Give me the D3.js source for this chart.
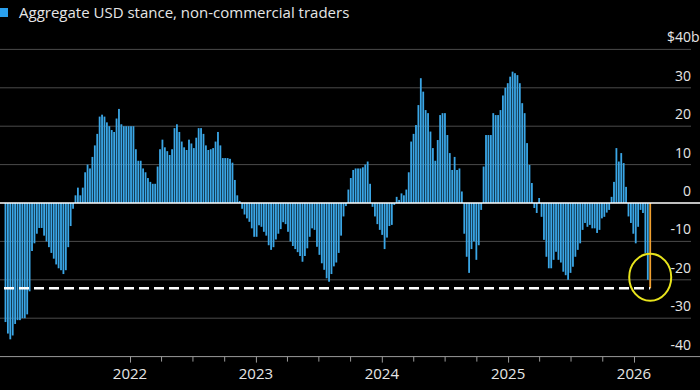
<!DOCTYPE html>
<html><head><meta charset="utf-8">
<script src="https://cdn.jsdelivr.net/npm/d3@7"></script>
<style>
html,body{margin:0;padding:0;background:#000;}
svg{display:block;}
</style></head>
<body><svg id="c" width="700" height="390"></svg>
<script>
const title = "Aggregate USD stance, non-commercial traders";
const firstWeek = "2021-01-05";
const values = [
-31,-34,-35.5,-34.5,-31.5,-30.5,-30.5,-30,-30,-29,-23,-12.5,-10.5,-8,-6.5,-6.5,-8.5,-10,-11.5,-13,-14.5,-16,-17,-17.5,-18.5,-17.5,-11.5,-6,-1.5,2,4,2,4,
8,10,9,12,15,18,22.5,23,22.5,21,20,19,18.5,22,24.5,20.5,20,20,20,20,20,14,11,11,9,8,6.5,5.5,5,5,9.5,14,16.5,14.5,13.5,12.5,14,19.5,20.5,18.5,16,14.5,13.8,16.5,15.5,14.3,17,19.5,19.5,18,15,13.8,14,14.3,16,18.5,15,11.7,11.7,11.7,11.5,10.5,6,2,0.5,
-1.5,-3,-4,-4.9,-6.6,-8.8,-8.8,-5.8,-6.2,-7.5,-8.5,-11,-12.2,-11.5,-9.5,-8,-6.8,-5,-5.5,-7.5,-10,-11.2,-12,-12.8,-13.8,-15.3,-13.8,-11.8,-8.8,-6.6,-7,-11.4,-13.5,-15.7,-17.4,-19.6,-20.5,-18.5,-16.5,-15.5,-13,-8.5,-3.5,-0.8,3.5,6.5,8.6,9,9,9,9.3,10,10.8,
5,-1,-3.5,-5.5,-7,-8.3,-12,-9,-6,-5.7,-0.5,1.6,0.8,2.5,2,3.5,8,16,18,20.3,25.5,32.5,29,24.2,23.4,18.6,14.3,11,16.4,22.9,23.4,23.4,17.7,13,8.6,12,8.6,9,3,-8,-14,-18.2,-12,-10,-14.8,-11,-1.8,9.5,17.7,17.7,17.7,23.4,22.9,22.9,24.2,28,30,31.2,32.9,34.2,33.8,33.3,31.2,26,23.4,15.6,9.9,5.2,-1.3,-2.6,1.3,-3.6,-9.6,-14,-17,-17,-14.8,-12.7,-14.8,-15.5,-17.9,-18.8,-20,-18.2,-16.6,-14,-12.2,-10.5,-7,-5.2,-6.2,-5.7,-6.6,-6.6,-7.8,-7,-4,-3.6,-2.5,-1.8,1.6,5.5,14.3,10.8,13,10.4,4.2,-3.5,-5.2,-8,-10.5,-6.2,-1.8,-2.6,-13,-20,-22.2
];
const yTicks = [40,30,20,10,0,-10,-20,-30,-40];
const yTickLabels = ["$40","30","20","10","0","-10","-20","-30","-40"];
const yearTicks = ["2022","2023","2024","2025","2026"];
const referenceLevel = -22.2;

const W = 700, H = 390;
const svg = d3.select("#c");
svg.append("rect").attr("width",W).attr("height",H).attr("fill","#000");

const parse = d3.utcParse("%Y-%m-%d");
const start = parse(firstWeek);
const dates = values.map((v,i)=>d3.utcWeek.offset(start, i));

const x = d3.scaleUtc().domain([parse("2022-01-01"), parse("2026-01-01")]).range([130, 634]);
const y = d3.scaleLinear().domain([-40, 40]).range([356.6, 49.4]);

// gridlines
svg.append("g").selectAll("line").data(yTicks.filter(t=>t!==0 && t!==-40)).join("line")
  .attr("x1",0).attr("x2",691).attr("y1",d=>y(d)).attr("y2",d=>y(d))
  .attr("stroke","#4a4a4a").attr("stroke-width",1);

// y labels
const yl = svg.append("g").attr("font-family","'Open Sans', sans-serif").attr("font-size",14).attr("fill","#e6e6e6");
yl.selectAll("text").data(yTicks).join("text")
  .attr("x",691).attr("y",d=>y(d)-7).attr("text-anchor","end")
  .text((d,i)=>yTickLabels[i]);
yl.append("text").attr("x",691).attr("y",y(40)-7).text("b");

// bars
const bw = 1.8;
svg.append("g").selectAll("rect").data(values).join("rect")
  .attr("x",(d,i)=>x(dates[i]) - bw/2)
  .attr("width",bw)
  .attr("y",d=>y(Math.max(0,d)))
  .attr("height",d=>Math.abs(y(d)-y(0)))
  .attr("fill",(d,i)=> i===values.length-1 ? "#f0a030" : "#3aa6e6");

// zero line
svg.append("line").attr("x1",0).attr("x2",W).attr("y1",y(0)).attr("y2",y(0))
  .attr("stroke","#fff").attr("stroke-width",1.5);

// dashed reference
const lastX = x(dates[dates.length-1]);
svg.append("line").attr("x1",4).attr("x2",lastX).attr("y1",y(referenceLevel)).attr("y2",y(referenceLevel))
  .attr("stroke","#fff").attr("stroke-width",2.5).attr("stroke-dasharray","10,5");

// highlight circle
svg.append("ellipse").attr("cx",lastX).attr("cy",y(referenceLevel)-11).attr("rx",21).attr("ry",23.5)
  .attr("fill","none").attr("stroke","#e8e41c").attr("stroke-width",2);

// x axis
const xAxis = d3.axisBottom(x)
  .ticks(d3.utcMonth.every(3))
  .tickSize(6).tickFormat("");
const gx = svg.append("g").attr("transform",`translate(0,${y(-40)})`).call(xAxis);
gx.select(".domain").remove();
gx.selectAll(".tick line").attr("stroke","#9a9a9a");
gx.selectAll(".tick").filter(d=>d.getUTCMonth()!==0).select("line").attr("y2",5);
svg.append("line").attr("x1",0).attr("x2",W).attr("y1",y(-40)).attr("y2",y(-40)).attr("stroke","#9a9a9a").attr("stroke-width",1);
svg.append("g").selectAll("text").data(yearTicks).join("text")
  .attr("x",d=>x(parse(d+"-01-01"))).attr("y",379).attr("text-anchor","middle")
  .attr("font-family","'Open Sans', sans-serif").attr("font-size",15).attr("fill","#e6e6e6")
  .text(d=>d);

// legend / title
svg.append("rect").attr("x",0).attr("y",8).attr("width",8).attr("height",9).attr("fill","#2aa0ee");
svg.append("text").attr("x",19).attr("y",18).attr("font-family","'Open Sans', sans-serif").attr("font-size",15)
  .attr("fill","#e6e6e6").text(title);
</script></body></html>
